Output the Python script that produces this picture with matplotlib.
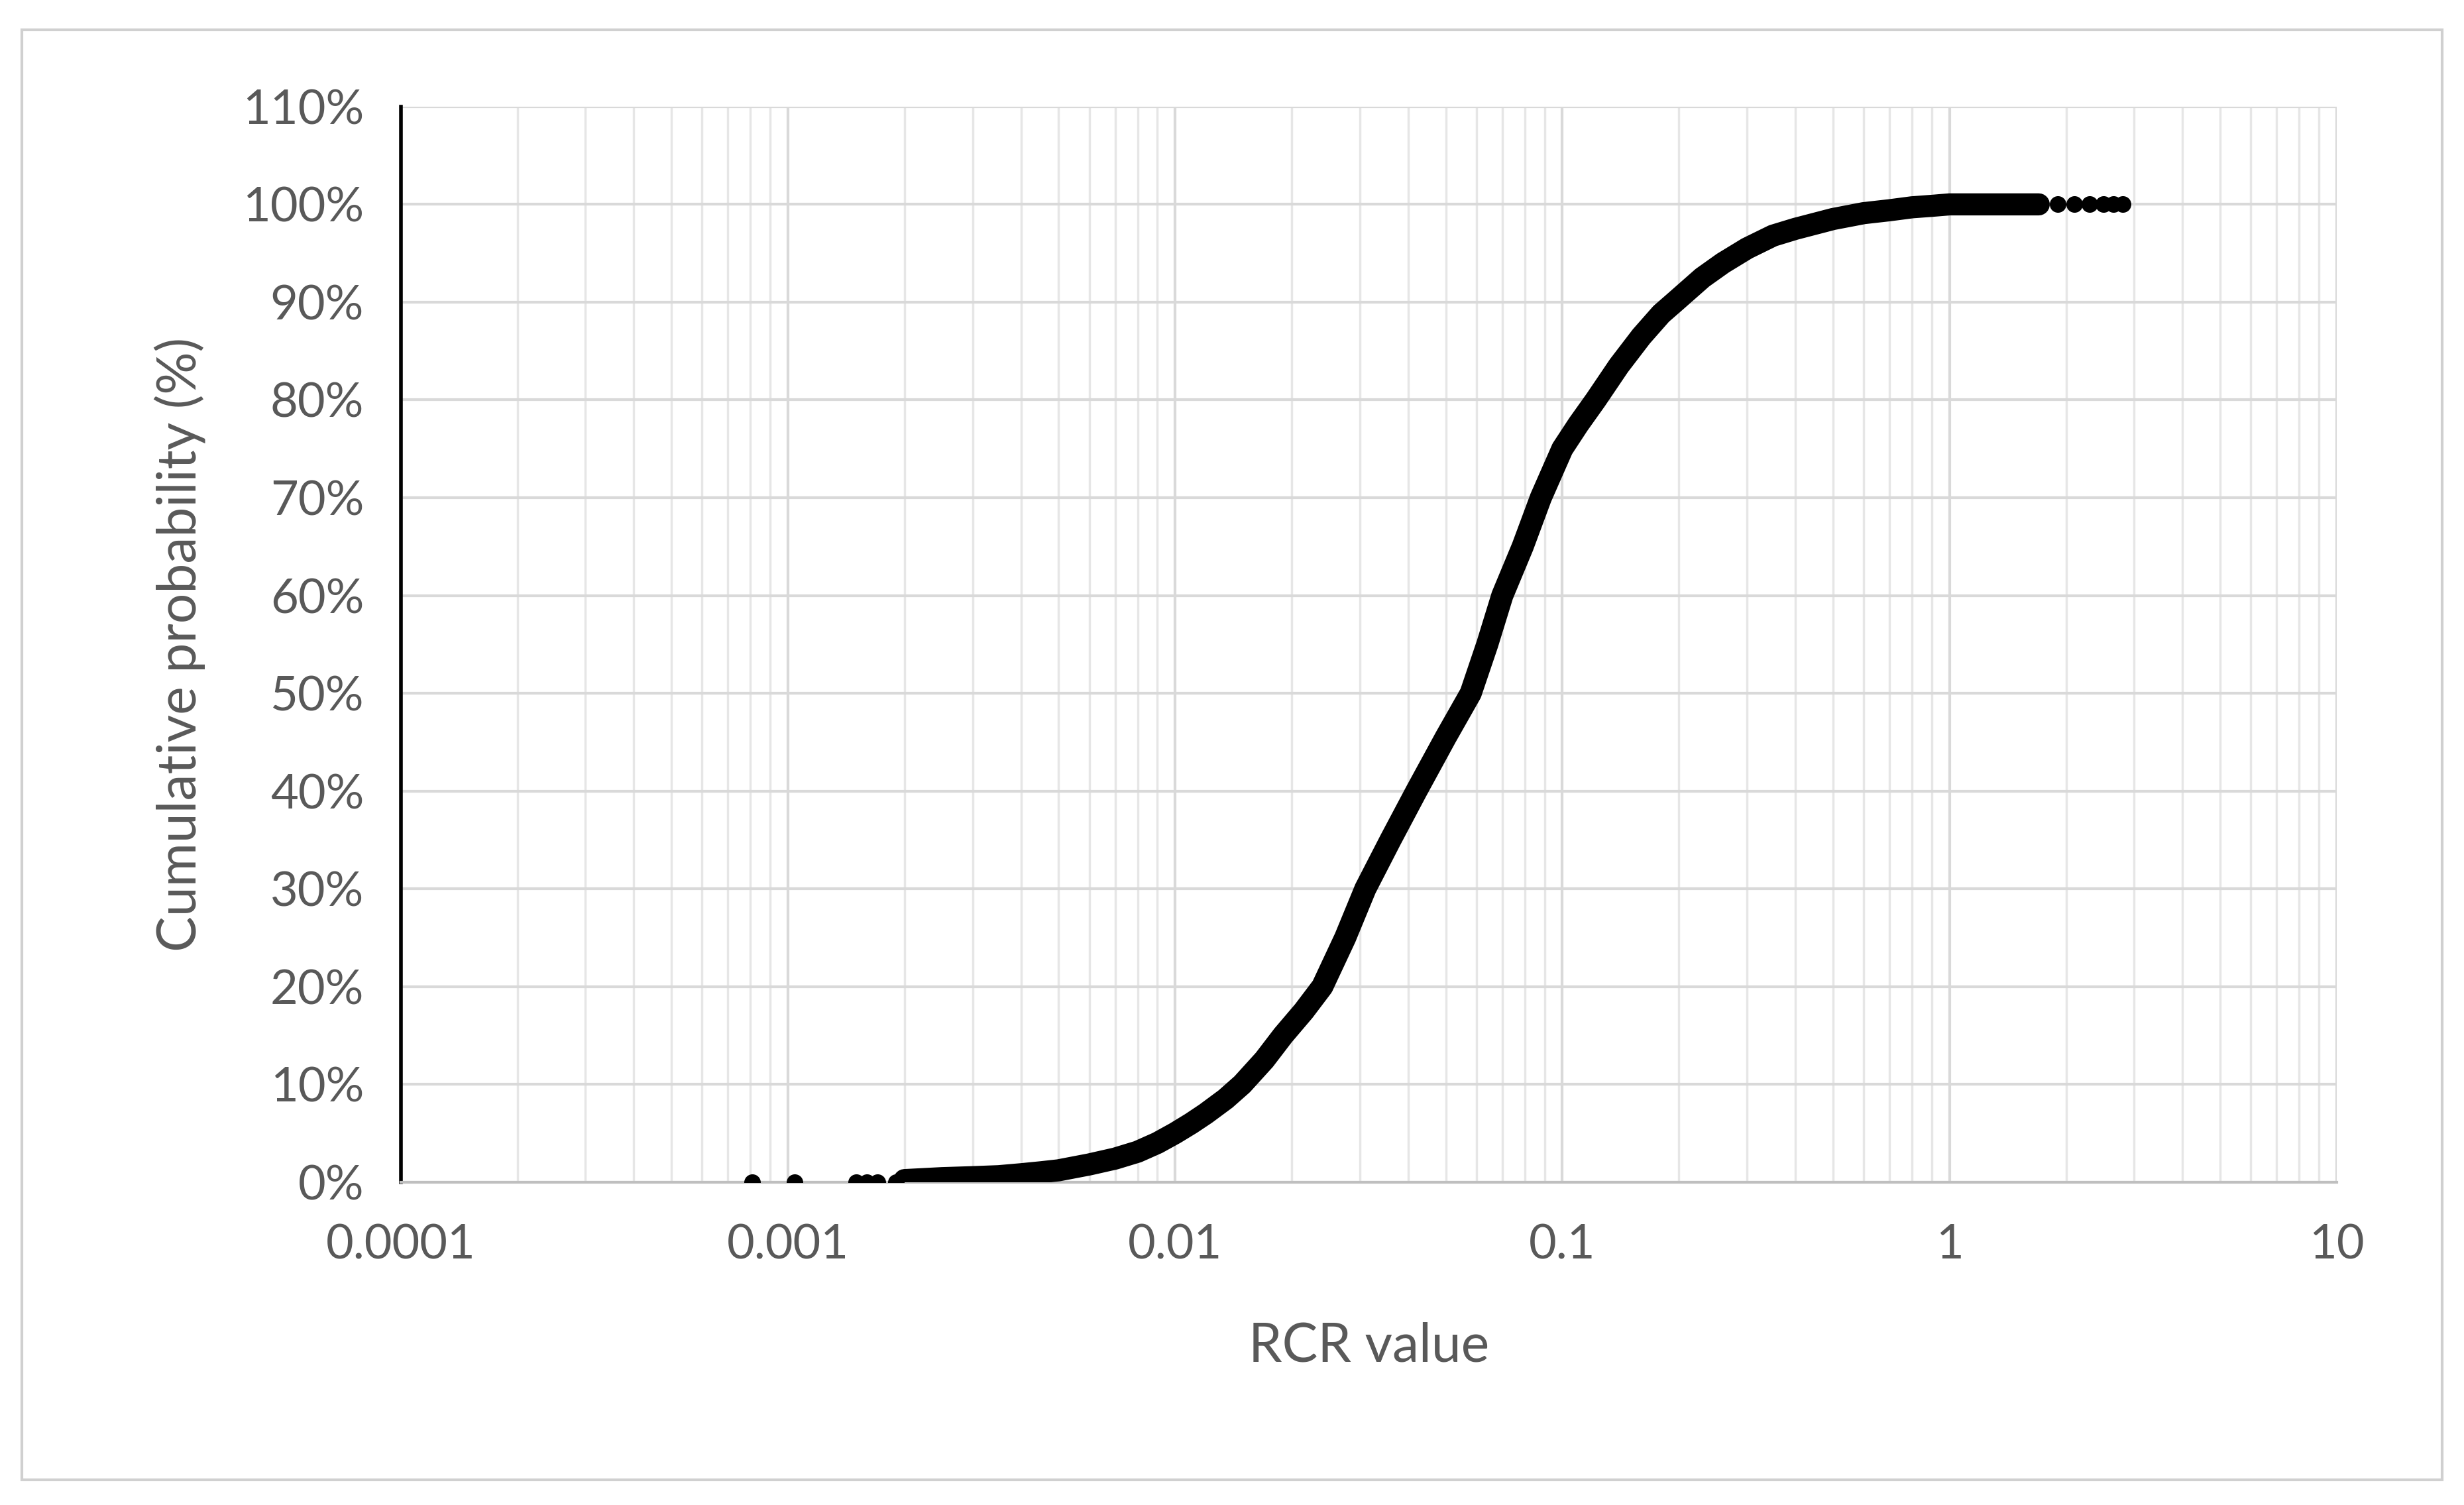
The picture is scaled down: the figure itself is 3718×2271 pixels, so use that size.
import numpy as np
import matplotlib.pyplot as plt
from matplotlib.ticker import FuncFormatter, LogLocator

plt.rcParams['font.family'] = ['Lato', 'DejaVu Sans']

# RCR value vs cumulative probability (%)
rcr_sparse = [0.00081, 0.00104, 0.0015, 0.0016, 0.0017, 0.0019]
cum_sparse = [0, 0, 0, 0, 0, 0]

rcr_curve = [0.002, 0.0025, 0.003, 0.0035, 0.004, 0.0045, 0.005, 0.006, 0.007,
             0.008, 0.009, 0.01, 0.011, 0.012, 0.0135, 0.0149, 0.017, 0.019,
             0.0215, 0.024, 0.0275, 0.031, 0.036, 0.042, 0.05, 0.058, 0.064,
             0.07, 0.079, 0.088, 0.1, 0.11, 0.122, 0.14, 0.16, 0.18, 0.195,
             0.23, 0.26, 0.3, 0.35, 0.4, 0.5, 0.6, 0.7, 0.8, 0.9, 1.0, 1.2,
             1.5, 1.7]
cum_curve = [0.2, 0.4, 0.5, 0.6, 0.8, 1.0, 1.2, 1.8, 2.4,
             3.1, 4.0, 5.0, 6.0, 7.0, 8.5, 10, 12.5, 15,
             17.5, 20, 25, 30, 35, 40, 45.5, 50, 55,
             60, 65, 70, 75, 77.5, 80, 83.5, 86.5, 88.8, 90,
             92.5, 94, 95.5, 96.8, 97.5, 98.5, 99.1, 99.4, 99.7, 99.85, 100, 100,
             100, 100]

rcr_tail = [1.9, 2.1, 2.3, 2.5, 2.65, 2.8]
cum_tail = [100, 100, 100, 100, 100, 100]

fig = plt.figure(figsize=(37.18, 22.71), dpi=100)
ax = fig.add_axes([255/1568, 1 - 754/960, (1487-255)/1568, (754-68)/960])

# outer frame
fig.patches.append(plt.Rectangle((14/1568, 1 - 944/960), 1540/1568, 925/960,
                                 transform=fig.transFigure, fill=False,
                                 edgecolor='#d0d0d0', lw=3))

ax.plot(rcr_curve, cum_curve, color='black', lw=24, solid_capstyle='round',
        solid_joinstyle='round', zorder=3)
ax.plot(rcr_sparse + rcr_tail, cum_sparse + cum_tail, 'o', color='black',
        markersize=17, zorder=3)

ax.set_xscale('log')
ax.set_xlim(0.0001, 10)
ax.set_ylim(0, 110)
ax.set_yticks(range(0, 111, 10))
ax.yaxis.set_major_formatter(FuncFormatter(lambda v, p: f'{int(v)}%'))
ax.xaxis.set_major_locator(LogLocator(base=10, numticks=10))
ax.xaxis.set_minor_locator(LogLocator(base=10, subs=np.arange(2, 10), numticks=100))
ax.xaxis.set_major_formatter(FuncFormatter(lambda v, p: f'{v:g}'))

ax.grid(True, which='major', color='#d9d9d9', lw=3)
ax.grid(True, which='minor', axis='x', color='#e6e6e6', lw=2.5)
ax.set_axisbelow(True)
ax.tick_params(which='both', length=0, labelsize=52, colors='#595959')
ax.tick_params(axis='x', pad=45)
ax.tick_params(axis='y', pad=40)

for s in ['top', 'right']:
    ax.spines[s].set_visible(False)
ax.spines['left'].set_color('black')
ax.spines['left'].set_linewidth(4)
ax.spines['bottom'].set_color('#bfbfbf')
ax.spines['bottom'].set_linewidth(3)

ax.set_xlabel('RCR value', fontsize=58, color='#595959', labelpad=60)
ax.set_ylabel('Cumulative probability (%)', fontsize=58, color='#595959', labelpad=40)

fig.savefig('out.png', dpi=100)
